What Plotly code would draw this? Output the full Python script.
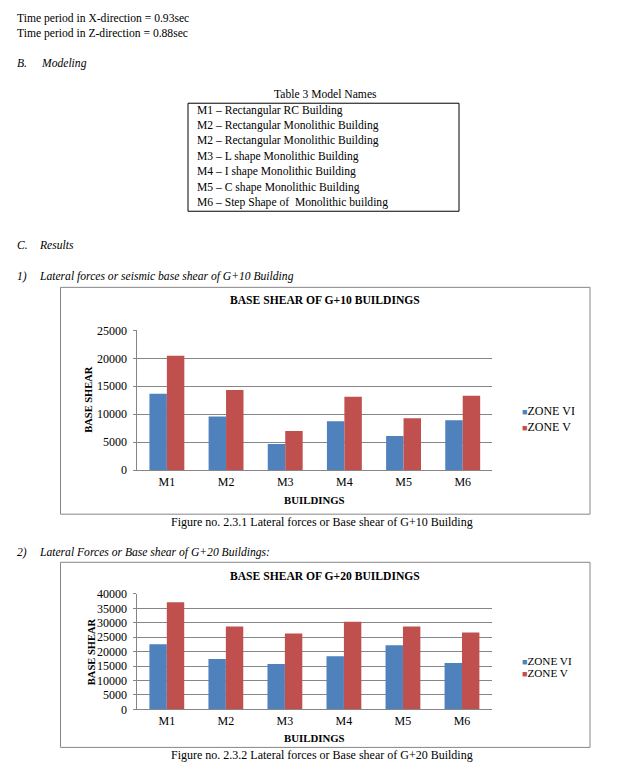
import plotly.graph_objects as go

# ---------------- data ----------------
buildings = ["M1", "M2", "M3", "M4", "M5", "M6"]
g10_zone_vi = [13650, 9600, 4700, 8750, 6100, 8950]
g10_zone_v = [20450, 14350, 7000, 13150, 9300, 13300]
g20_zone_vi = [22550, 17450, 15750, 18450, 22200, 16100]
g20_zone_v = [37150, 28750, 26300, 30350, 28750, 26650]
series_names = ["ZONE VI", "ZONE V"]
series_colors = ["#4F81BD", "#C0504D"]
g10_ticks = [0, 5000, 10000, 15000, 20000, 25000]
g20_ticks = [0, 5000, 10000, 15000, 20000, 25000, 30000, 35000, 40000]
model_names = [
    "M1 \u2013 Rectangular RC Building",
    "M2 \u2013 Rectangular Monolithic Building",
    "M2 \u2013 Rectangular Monolithic Building",
    "M3 \u2013 L shape Monolithic Building",
    "M4 \u2013 I shape Monolithic Building",
    "M5 \u2013 C shape Monolithic Building",
    "M6 \u2013 Step Shape of  Monolithic building",
]

W, H = 625, 776
FONT = "Liberation Serif, Times New Roman, serif"
GRID = "#868686"
BODY = 11.6


def px(x):
    return x / W


def py(y):
    return 1 - y / H


fig = go.Figure()

# bars
for vals, name, col in [(g10_zone_vi, series_names[0], series_colors[0]),
                        (g10_zone_v, series_names[1], series_colors[1])]:
    fig.add_trace(go.Bar(x=buildings, y=vals, name=name, marker_color=col,
                         marker_line_width=0, xaxis="x", yaxis="y",
                         showlegend=False))
for vals, name, col in [(g20_zone_vi, series_names[0], series_colors[0]),
                        (g20_zone_v, series_names[1], series_colors[1])]:
    fig.add_trace(go.Bar(x=buildings, y=vals, name=name, marker_color=col,
                         marker_line_width=0, xaxis="x2", yaxis="y2",
                         showlegend=False))

ax_common = dict(showgrid=False, showline=True, linecolor=GRID, linewidth=1,
                 tickfont=dict(family=FONT, size=12, color="#000"),
                 zeroline=False, fixedrange=True)
ay_common = dict(showgrid=True, gridcolor=GRID, gridwidth=1, showline=True,
                 linecolor=GRID, linewidth=1, ticks="outside", ticklen=3,
                 tickcolor=GRID, tickfont=dict(family=FONT, size=12, color="#000"),
                 zeroline=False, fixedrange=True, ticklabelstandoff=4,
                 tickformat="d")

fig.update_layout(
    width=W, height=H,
    margin=dict(l=0, r=0, t=0, b=0),
    paper_bgcolor="white", plot_bgcolor="white",
    barmode="group", bargap=0.41, bargroupgap=0,
    showlegend=False,
    xaxis=dict(domain=[px(137.3), px(492.3)], anchor="y", **ax_common),
    yaxis=dict(domain=[py(471.7), py(329.3)], anchor="x", range=[0, 25000],
               tickvals=g10_ticks, **ay_common),
    xaxis2=dict(domain=[px(137.3), px(491.5)], anchor="y2", **ax_common),
    yaxis2=dict(domain=[py(715.3), py(597.7)], anchor="x2", range=[0, 40000],
                tickvals=g20_ticks, **ay_common),
)

ann = []


def text(x, y, s, size=BODY, xanchor="left", bold=False, italic=False, angle=0):
    if bold:
        s = "<b>" + s + "</b>"
    if italic:
        s = "<i>" + s + "</i>"
    ann.append(dict(x=px(x), y=py(y), xref="paper", yref="paper", text=s,
                    showarrow=False, xanchor=xanchor, yanchor="middle",
                    textangle=angle,
                    font=dict(family=FONT, size=size, color="#000")))


# page text
text(15, 12, "Time period in X-direction = 0.93sec")
text(15, 27, "Time period in Z-direction = 0.88sec")
text(15, 58, "B.", italic=True)
text(39, 58, "Modeling", italic=True)
text(325, 89, "Table 3 Model Names", xanchor="center")
for i, m in enumerate(model_names):
    text(195, 105 + i * 15.7, m)
text(15, 243, "C.", italic=True)
text(37, 243, "Results", italic=True)
text(15, 274, "1)", italic=True)
text(37, 274, "Lateral forces or seismic base shear of G+10 Building", italic=True)
text(15, 556, "2)", italic=True)
text(37, 556, "Lateral Forces or Base shear of G+20 Buildings:", italic=True)

# chart 1 texts
text(325, 299, "BASE SHEAR OF G+10 BUILDINGS", size=11.6, xanchor="center", bold=True)
text(89, 400, "BASE SHEAR", size=10.5, xanchor="center", bold=True, angle=-90)
text(314, 502, "BUILDINGS", size=10.8, xanchor="center", bold=True)
text(322, 524, "Figure no. 2.3.1 Lateral forces or Base shear of G+10 Building", size=12, xanchor="center")
# chart 2 texts
text(325, 580, "BASE SHEAR OF G+20 BUILDINGS", size=11.6, xanchor="center", bold=True)
text(91, 657, "BASE SHEAR", size=10.5, xanchor="center", bold=True, angle=-90)
text(314, 744, "BUILDINGS", size=10.8, xanchor="center", bold=True)
text(322, 762, "Figure no. 2.3.2 Lateral forces or Base shear of G+20 Building", size=12, xanchor="center")

# legends
for (ly, gap, fs) in [(411, 17, 12), (666, 12.6, 11.2)]:
    for i, (name, col) in enumerate(zip(series_names, series_colors)):
        ann.append(dict(x=px(520), y=py(ly + i * gap), xref="paper", yref="paper",
                        text="<span style='color:%s;font-size:9px'>\u25A0</span>%s" % (col, name),
                        showarrow=False, xanchor="left", yanchor="middle",
                        font=dict(family=FONT, size=fs, color="#000")))

fig.update_layout(annotations=ann)

shapes = [
    dict(type="rect", xref="paper", yref="paper", x0=px(188), x1=px(459),
         y0=py(208), y1=py(98), line=dict(color="#000", width=1)),
    dict(type="rect", xref="paper", yref="paper", x0=px(60.5), x1=px(590),
         y0=py(516.5), y1=py(285.5), line=dict(color=GRID, width=1)),
    dict(type="rect", xref="paper", yref="paper", x0=px(60.5), x1=px(590),
         y0=py(754), y1=py(565.5), line=dict(color=GRID, width=1)),
]
fig.update_layout(shapes=shapes)

fig.write_html("out.html",
               config={"displayModeBar": False},
               post_script="document.body.style.margin='0';"
                           "document.body.style.overflow='hidden';")
